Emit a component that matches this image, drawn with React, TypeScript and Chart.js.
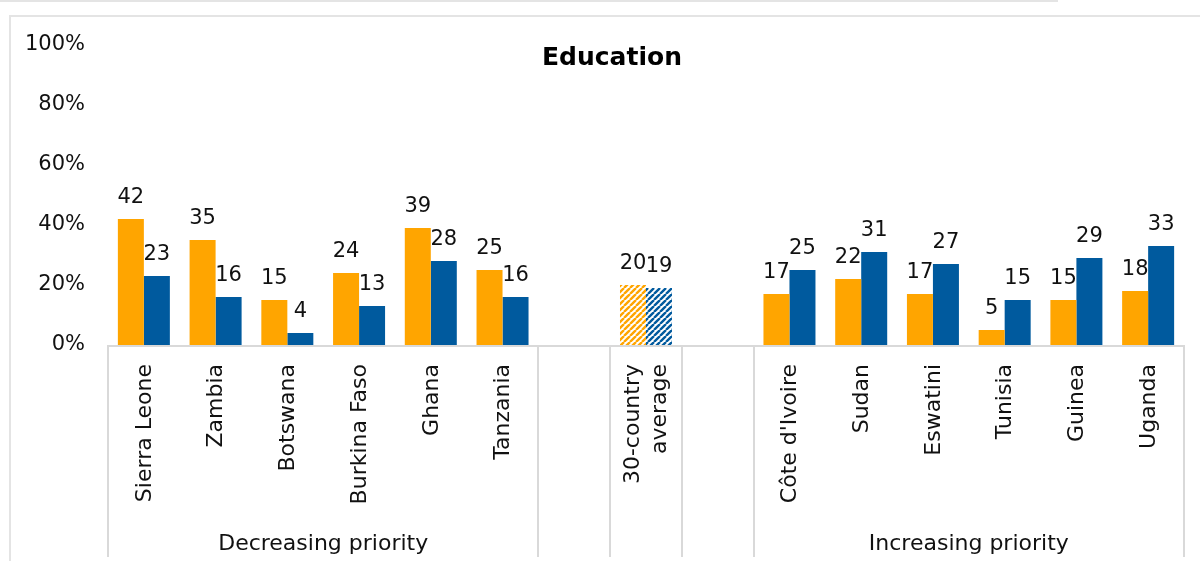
import React, { useEffect, useRef } from 'react';
import { Chart, registerables } from 'chart.js';

Chart.register(...registerables);

// ---- data ----
const categories: (string | string[])[] = [
  'Sierra Leone', 'Zambia', 'Botswana', 'Burkina Faso', 'Ghana', 'Tanzania',
  '',
  ['30-country', 'average'],
  '',
  "Côte d'Ivoire", 'Sudan', 'Eswatini', 'Tunisia', 'Guinea', 'Uganda',
];
const seriesOrange: (number | null)[] = [42, 35, 15, 24, 39, 25, null, 20, null, 17, 22, 17, 5, 15, 18];
const seriesBlue: (number | null)[] = [23, 16, 4, 13, 28, 16, null, 19, null, 25, 31, 27, 15, 29, 33];
const groupLabels = ['Decreasing priority', '', '', '', 'Increasing priority'];
const groupSizes = [6, 1, 1, 1, 6];
const averageIndex = 7;
const yTicks = [0, 20, 40, 60, 80, 100];
const title = 'Education';

const ORANGE = '#FFA500';
const BLUE = '#005A9E';
const FONT = '"DejaVu Sans", sans-serif';
const TEXT = '#111111';
const LINE = '#d9d9d9';

function hatch(color: string): CanvasPattern {
  const size = 6;
  const c = document.createElement('canvas');
  c.width = size;
  c.height = size;
  const g = c.getContext('2d')!;
  g.fillStyle = '#ffffff';
  g.fillRect(0, 0, size, size);
  g.strokeStyle = color;
  g.lineWidth = 2.4;
  g.beginPath();
  for (let k = -1; k <= 1; k++) {
    g.moveTo(k * size, size);
    g.lineTo(k * size + size, 0);
  }
  g.stroke();
  return g.createPattern(c, 'repeat')!;
}

const decorPlugin = {
  id: 'decor',
  beforeDraw(chart: any) {
    const ctx = chart.ctx as CanvasRenderingContext2D;
    ctx.save();
    ctx.fillStyle = '#ffffff';
    ctx.fillRect(0, 0, chart.width, chart.height);
    ctx.strokeStyle = '#e4e4e4';
    ctx.lineWidth = 2;
    ctx.beginPath();
    ctx.moveTo(0, 1);
    ctx.lineTo(1058, 1);
    ctx.stroke();
    ctx.beginPath();
    ctx.moveTo(10, 561);
    ctx.lineTo(10, 16);
    ctx.lineTo(1200, 16);
    ctx.stroke();
    ctx.restore();
  },
  afterDatasetsDraw(chart: any) {
    const ctx = chart.ctx as CanvasRenderingContext2D;
    ctx.save();
    ctx.font = `21px ${FONT}`;
    ctx.fillStyle = TEXT;
    ctx.textAlign = 'center';
    ctx.textBaseline = 'alphabetic';
    chart.data.datasets.forEach((ds: any, di: number) => {
      const meta = chart.getDatasetMeta(di);
      meta.data.forEach((bar: any, i: number) => {
        const v = ds.data[i];
        if (v === null || v === undefined) return;
        ctx.fillText(String(v), bar.x, bar.y - 16);
      });
    });
    ctx.restore();
  },
  afterDraw(chart: any) {
    const ctx = chart.ctx as CanvasRenderingContext2D;
    const x = chart.scales.x;
    const area = chart.chartArea;
    const slot = x.getPixelForValue(1) - x.getPixelForValue(0);
    const bottom = 557;
    ctx.save();
    // axis line
    ctx.strokeStyle = LINE;
    ctx.lineWidth = 2;
    ctx.beginPath();
    ctx.moveTo(area.left, area.bottom + 1);
    ctx.lineTo(area.right, area.bottom + 1);
    ctx.stroke();
    // group separators
    let idx = 0;
    const edges: number[] = [x.getPixelForValue(0) - slot / 2];
    groupSizes.forEach((n) => {
      idx += n;
      edges.push(x.getPixelForValue(idx - 1) + slot / 2);
    });
    ctx.beginPath();
    edges.forEach((e) => {
      ctx.moveTo(Math.round(e), area.bottom);
      ctx.lineTo(Math.round(e), bottom);
    });
    ctx.stroke();
    // category labels (rotated)
    ctx.fillStyle = TEXT;
    ctx.font = `22px ${FONT}`;
    ctx.textAlign = 'right';
    ctx.textBaseline = 'middle';
    categories.forEach((lab, i) => {
      const lines = Array.isArray(lab) ? lab : [lab];
      if (!lines[0]) return;
      const cx = x.getPixelForValue(i);
      const lh = 27;
      lines.forEach((ln, k) => {
        const off = (k - (lines.length - 1) / 2) * lh + 1;
        ctx.save();
        ctx.translate(cx + off, area.bottom + 19);
        ctx.rotate(-Math.PI / 2);
        ctx.fillText(ln, 0, 0);
        ctx.restore();
      });
    });
    // group labels
    ctx.textAlign = 'center';
    ctx.textBaseline = 'alphabetic';
    groupLabels.forEach((g, gi) => {
      if (!g) return;
      const cx = (edges[gi] + edges[gi + 1]) / 2;
      ctx.fillText(g, cx, 550);
    });
    // title
    ctx.font = `bold 25px ${FONT}`;
    ctx.fillStyle = '#000000';
    ctx.fillText(title, 612, 65);
    ctx.restore();
  },
};

export default function App() {
  const ref = useRef<HTMLCanvasElement | null>(null);
  useEffect(() => {
    if (!ref.current) return;
    const orangeColors = seriesOrange.map((_, i) => (i === averageIndex ? hatch(ORANGE) : ORANGE));
    const blueColors = seriesBlue.map((_, i) => (i === averageIndex ? hatch(BLUE) : BLUE));
    const chart = new Chart(ref.current, {
      type: 'bar',
      data: {
        labels: categories as any,
        datasets: [
          {
            label: 'Orange',
            data: seriesOrange,
            backgroundColor: orangeColors as any,
            borderWidth: 0,
            categoryPercentage: 0.725,
            barPercentage: 1,
          },
          {
            label: 'Blue',
            data: seriesBlue,
            backgroundColor: blueColors as any,
            borderWidth: 0,
            categoryPercentage: 0.725,
            barPercentage: 1,
          },
        ],
      },
      options: {
        responsive: false,
        animation: false,
        devicePixelRatio: 1,
        layout: { padding: { top: 45, bottom: 216, left: 0, right: 16 } },
        plugins: {
          legend: { display: false },
          title: { display: false },
          tooltip: { enabled: false },
        },
        scales: {
          x: {
            type: 'category',
            display: false,
            offset: true,
            grid: { display: false },
          },
          y: {
            min: 0,
            max: 100,
            afterFit: (s: any) => {
              s.width = 108;
            },
            afterBuildTicks: (s: any) => {
              s.ticks = yTicks.map((v) => ({ value: v }));
            },
            grid: { display: false },
            border: { display: false },
            ticks: {
              padding: 15,
              color: TEXT,
              font: { family: FONT, size: 21 },
              callback: (v: any) => `${v}%`,
            },
          },
        },
      },
      plugins: [decorPlugin],
    });
    return () => chart.destroy();
  }, []);
  return (
    <div style={{ position: 'absolute', left: 0, top: 0, width: 1200, height: 561 }}>
      <canvas ref={ref} width={1200} height={561} style={{ display: 'block' }} />
    </div>
  );
}
